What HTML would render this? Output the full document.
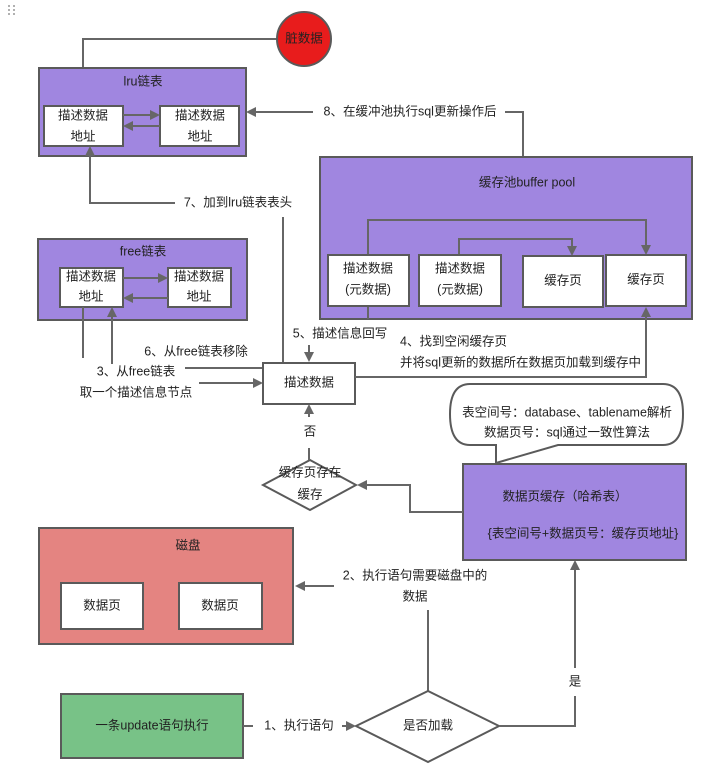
<!DOCTYPE html>
<html><head><meta charset="utf-8"><style>
html,body{margin:0;padding:0;background:#fff;width:703px;height:778px;overflow:hidden}
svg{display:block}
text{font-family:"Liberation Sans","Noto Sans CJK SC",sans-serif;font-size:12.5px;fill:#222;text-anchor:middle;dominant-baseline:middle}
.b{stroke:#5a5a5a;stroke-width:2}
.l{stroke:#666;stroke-width:2;fill:none}
</style></head><body>
<svg width="703" height="778" viewBox="0 0 703 778">
<defs><marker id="a" markerWidth="10" markerHeight="10" refX="8" refY="5" orient="auto" markerUnits="userSpaceOnUse"><path d="M0,0 L10,5 L0,10 Z" fill="#666"/></marker></defs>
<g fill="#999"><circle cx="9" cy="6" r="1"/><circle cx="14" cy="6" r="1"/><circle cx="9" cy="10" r="1"/><circle cx="14" cy="10" r="1"/><circle cx="9" cy="14" r="1"/><circle cx="14" cy="14" r="1"/></g>

<!-- dirty -->
<path class="l" d="M277,39 H83 V104" marker-end="url(#a)"/>
<circle cx="304" cy="39" r="27" fill="#e81c1c" class="b"/>
<text x="304" y="39">脏数据</text>

<!-- lru -->
<rect x="39" y="68" width="207" height="88" fill="#a086e0" class="b"/>
<text x="143" y="82">lru链表</text>
<rect x="44" y="106" width="79" height="40" fill="#fff" class="b"/>
<rect x="160" y="106" width="79" height="40" fill="#fff" class="b"/>
<text x="83" y="116">描述数据</text><text x="83" y="137">地址</text>
<text x="200" y="116">描述数据</text><text x="200" y="137">地址</text>
<path class="l" d="M123,115 H158" marker-end="url(#a)"/>
<path class="l" d="M160,126 H125" marker-end="url(#a)"/>

<!-- 8 -->
<path class="l" d="M313,112 H248" marker-end="url(#a)"/>
<text x="410" y="112">8、在缓冲池执行sql更新操作后</text>
<path class="l" d="M505,112 H523 V157"/>

<!-- pool -->
<rect x="320" y="157" width="372" height="162" fill="#a086e0" class="b"/>
<text x="527" y="183">缓存池buffer pool</text>
<path class="l" d="M368,255 V220 H646 V253" marker-end="url(#a)"/>
<path class="l" d="M459,255 V239 H572 V254" marker-end="url(#a)"/>
<path class="l" d="M368,306 V319"/>
<rect x="328" y="255" width="81" height="51" fill="#fff" class="b"/>
<rect x="419" y="255" width="82" height="51" fill="#fff" class="b"/>
<rect x="523" y="256" width="80" height="51" fill="#fff" class="b"/>
<rect x="606" y="255" width="80" height="51" fill="#fff" class="b"/>
<text x="368" y="269">描述数据</text><text x="368" y="290">(元数据)</text>
<text x="460" y="269">描述数据</text><text x="460" y="290">(元数据)</text>
<text x="563" y="281">缓存页</text><text x="646" y="280">缓存页</text>

<!-- 7 -->
<path class="l" d="M175,203 H90 V148" marker-end="url(#a)"/>
<text x="238" y="203">7、加到lru链表表头</text>
<path class="l" d="M283,217 V362"/>

<!-- free -->
<rect x="38" y="239" width="209" height="81" fill="#a086e0" class="b"/>
<text x="143" y="252">free链表</text>
<rect x="60" y="268" width="63" height="39" fill="#fff" class="b"/>
<rect x="168" y="268" width="63" height="39" fill="#fff" class="b"/>
<text x="91" y="277">描述数据</text><text x="91" y="297">地址</text>
<text x="199" y="277">描述数据</text><text x="199" y="297">地址</text>
<path class="l" d="M123,278 H166" marker-end="url(#a)"/>
<path class="l" d="M168,298 H125" marker-end="url(#a)"/>
<path class="l" d="M83,307 V358"/>
<path class="l" d="M263,368 H112 V309" marker-end="url(#a)"/>
<text x="196" y="352">6、从free链表移除</text>
<rect x="90" y="364" width="95" height="18" fill="#fff"/>
<text x="136" y="372">3、从free链表</text>
<text x="136" y="393">取一个描述信息节点</text>
<path class="l" d="M199,383 H261" marker-end="url(#a)"/>

<!-- desc -->
<rect x="263" y="363" width="92" height="41" fill="#fff" class="b"/>
<text x="309" y="383">描述数据</text>
<text x="340" y="334">5、描述信息回写</text>
<path class="l" d="M309,345 V360" marker-end="url(#a)"/>
<text x="400" y="342" style="text-anchor:start">4、找到空闲缓存页</text>
<text x="400" y="363" style="text-anchor:start">并将sql更新的数据所在数据页加载到缓存中</text>
<path class="l" d="M355,377 H646 V309" marker-end="url(#a)"/>

<!-- callout -->
<path d="M470,384 H663 Q683,384 683,414 Q683,445 663,445 H558 L496,463 V445 H470 Q450,445 450,414 Q450,384 470,384 Z" fill="#fff" class="b"/>
<text x="567" y="413">表空间号：database、tablename解析</text>
<text x="567" y="433">数据页号：sql通过一致性算法</text>

<!-- hash -->
<rect x="463" y="464" width="223" height="96" fill="#a086e0" class="b"/>
<text x="565" y="497">数据页缓存（哈希表）</text>
<text x="583" y="534">{表空间号+数据页号：缓存页地址}</text>
<path class="l" d="M463,512 H410 V485 H359" marker-end="url(#a)"/>

<!-- diamond 1 -->
<polygon points="263,485 310,460 356,485 310,510" fill="#fff" class="b"/>
<text x="310" y="473">缓存页存在</text><text x="310" y="495">缓存</text>
<path class="l" d="M309,460 V448"/>
<text x="310" y="432">否</text>
<path class="l" d="M309,417 V406" marker-end="url(#a)"/>

<!-- disk -->
<rect x="39" y="528" width="254" height="116" fill="#e48481" class="b"/>
<text x="188" y="546">磁盘</text>
<rect x="61" y="583" width="82" height="46" fill="#fff" class="b"/>
<rect x="179" y="583" width="83" height="46" fill="#fff" class="b"/>
<text x="102" y="606">数据页</text><text x="220" y="606">数据页</text>
<text x="415" y="576">2、执行语句需要磁盘中的</text>
<text x="415" y="597">数据</text>
<path class="l" d="M334,586 H297" marker-end="url(#a)"/>
<path class="l" d="M428,610 V691"/>

<!-- bottom -->
<rect x="61" y="694" width="182" height="64" fill="#78c287" class="b"/>
<text x="152" y="726">一条update语句执行</text>
<path class="l" d="M243,726 H253"/>
<text x="299" y="726">1、执行语句</text>
<path class="l" d="M342,726 H354" marker-end="url(#a)"/>
<polygon points="356,726 428,691 499,726 428,762" fill="#fff" class="b"/>
<text x="428" y="726">是否加载</text>
<path class="l" d="M499,726 H575 V696"/>
<text x="575" y="682">是</text>
<path class="l" d="M575,668 V562" marker-end="url(#a)"/>
</svg>
</body></html>
